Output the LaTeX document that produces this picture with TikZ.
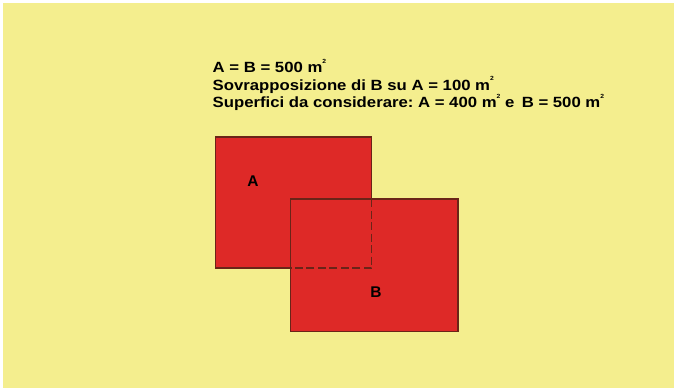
\documentclass[tikz,border=0pt]{standalone}
\usepackage{fontspec}
\setmainfont{Liberation Sans}
\usepackage{xcolor}
\definecolor{bgyellow}{HTML}{F4EE8E}
\definecolor{areared}{HTML}{DE2927}
\definecolor{edgebrown}{HTML}{6A2418}
\newcommand{\mq}{m\raisebox{0.62em}{\fontsize{6}{6}\selectfont 2}}
\newcommand{\riga}[1]{\scalebox{1.13}[1]{#1}}
\frenchspacing

\begin{document}
\begin{tikzpicture}[x=1pt,y=-1pt,
    area/.style={fill=areared,draw=edgebrown,line width=1.1pt},
    txt/.style={font=\bfseries\fontsize{14.8}{17.5}\selectfont,anchor=base west,inner sep=0pt},
    lbl/.style={font=\bfseries\fontsize{15.5}{17}\selectfont,inner sep=0pt}]
    \useasboundingbox (0,0) rectangle (674,388);
    \fill[white] (0,0) rectangle (674,388);
    \fill[bgyellow] (3,3) rectangle (674,388);

    % superfici
    \draw[area] (215.5,137) rectangle (371.5,268);
    \draw[area] (290.5,199) rectangle (458,331.5);
    \draw[edgebrown,line width=1.3pt,dash pattern=on 8pt off 3.5pt]
        (371.5,199) -- (371.5,268) -- (290.5,268);

    \node[lbl] (labA) at (253,181) {A};
    \node[lbl] (labB) at (376,292) {B};

    % dati
    \node[txt] (riga1) at (212.5,72.5) {\riga{A = B = 500 \mq}};
    \node[txt] (riga2) at (212.5,90) {\riga{Sovrapposizione di B su A = 100 \mq}};
    \node[txt] (riga3) at (212.5,107.5) {\riga{Superfici da considerare: A = 400 \mq{} e\, B = 500 \mq}};
\end{tikzpicture}
\end{document}
